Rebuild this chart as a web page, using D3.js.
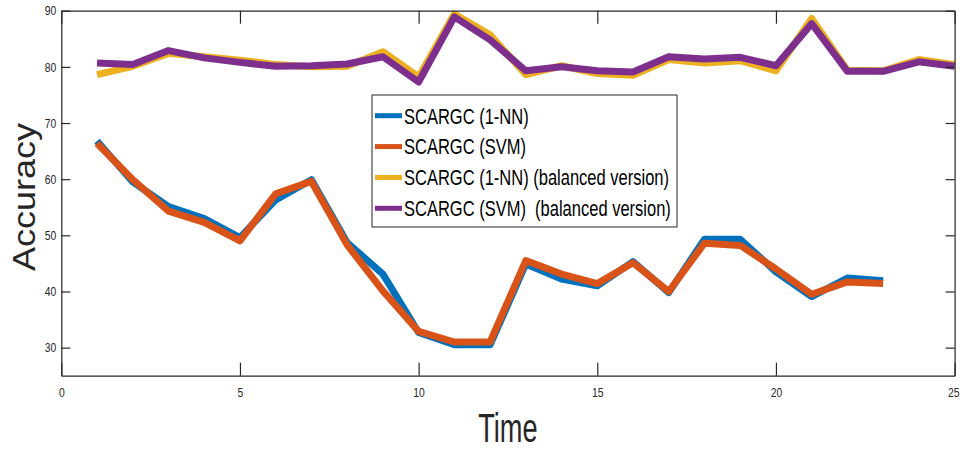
<!DOCTYPE html>
<html>
<head>
<meta charset="utf-8">
<script src="https://cdn.jsdelivr.net/npm/d3@7"></script>
<style>
  html, body { margin: 0; padding: 0; background: #fff; }
  svg { display: block; font-family: "Liberation Sans", Arial, Helvetica, sans-serif; }
</style>
</head>
<body>
<svg id="chart" width="962" height="450"></svg>
<script>
// Accuracy of SCARGC variants over time steps
const timeSteps = d3.range(1, 26);
const seriesNames = [
  "SCARGC (1-NN)",
  "SCARGC (SVM)",
  "SCARGC (1-NN) (balanced version)",
  "SCARGC (SVM)  (balanced version)"
];
const seriesColors = ["#0072BD", "#D95319", "#EDB120", "#7E2F8E"];

const acc1NN = [66.8, 59.5, 55.1, 53.0, 49.6, 56.3, 59.9, 48.7, 43.1, 32.7, 30.5, 30.5,
  44.9, 42.2, 41.0, 45.3, 39.8, 49.3, 49.3, 43.5, 39.1, 42.4, 41.9];
const accSVM = [66.4, 59.9, 54.3, 52.3, 49.0, 57.4, 59.6, 48.3, 40.1, 32.9, 31.0, 31.0,
  45.5, 43.1, 41.4, 45.1, 40.0, 48.6, 48.2, 44.0, 39.5, 41.7, 41.4];
const acc1NNBal = [78.6, 80.1, 82.4, 81.8, 81.2, 80.4, 80.0, 80.1, 82.7, 78.2, 89.4, 85.7,
  78.6, 80.2, 78.8, 78.5, 81.3, 80.7, 81.1, 79.3, 88.6, 79.4, 79.3, 81.3, 80.4];
const accSVMBal = [80.7, 80.4, 82.9, 81.6, 80.8, 80.1, 80.2, 80.5, 81.8, 77.3, 88.9, 84.8,
  79.3, 80.0, 79.3, 79.1, 81.8, 81.4, 81.7, 80.2, 87.7, 79.2, 79.2, 80.9, 80.1];

const xTicks = [0, 5, 10, 15, 20, 25];
const yTicks = [30, 40, 50, 60, 70, 80, 90];
const xDomain = [0, 25];
const yDomain = [25, 90];

const allSeries = [acc1NN, accSVM, acc1NNBal, accSVMBal];

const svg = d3.select("#chart");
const box = { left: 61.3, right: 954.6, top: 10.7, bottom: 375.7 };
const axisColor = "#262626";

const x = d3.scaleLinear().domain(xDomain).range([box.left, box.right]);
const y = d3.scaleLinear().domain(yDomain).range([box.bottom, box.top]);

// narrow the text horizontally by factor k
function condense(sel, k) {
  sel.each(function () {
    const w = this.getComputedTextLength();
    d3.select(this).attr("textLength", w * k).attr("lengthAdjust", "spacingAndGlyphs");
  });
}

// data lines
const line = d3.line()
  .x((d, i) => x(timeSteps[i]))
  .y(d => y(d));

svg.append("g").selectAll("path")
  .data(allSeries)
  .join("path")
  .attr("d", d => line(d))
  .attr("fill", "none")
  .attr("stroke", (d, i) => seriesColors[i])
  .attr("stroke-width", 7)
  .attr("stroke-linejoin", "round")
  .attr("stroke-linecap", "butt");

// axes (box with inward ticks)
function styleAxis(g) {
  g.select(".domain").attr("stroke", axisColor).attr("stroke-width", 1.2);
  g.selectAll(".tick line").attr("stroke", axisColor).attr("stroke-width", 1.2);
  g.selectAll(".tick text").attr("fill", axisColor).attr("font-size", 13);
}

const gx = svg.append("g")
  .attr("transform", `translate(0,${box.bottom})`)
  .call(d3.axisBottom(x).tickValues(xTicks).tickFormat(d3.format("d"))
    .tickSizeInner(-13).tickSizeOuter(0).tickPadding(12));
styleAxis(gx);
// keep the last label inside the figure edge
gx.selectAll(".tick text").filter(d => d === xDomain[1])
  .attr("text-anchor", "end").attr("x", 4.5);

const gxTop = svg.append("g")
  .attr("transform", `translate(0,${box.top})`)
  .call(d3.axisTop(x).tickValues(xTicks).tickFormat("")
    .tickSizeInner(-13).tickSizeOuter(0));
styleAxis(gxTop);

const gy = svg.append("g")
  .attr("transform", `translate(${box.left},0)`)
  .call(d3.axisLeft(y).tickValues(yTicks).tickFormat(d3.format("d"))
    .tickSizeInner(-9).tickSizeOuter(0).tickPadding(5));
styleAxis(gy);

const gyRight = svg.append("g")
  .attr("transform", `translate(${box.right},0)`)
  .call(d3.axisRight(y).tickValues(yTicks).tickFormat("")
    .tickSizeInner(-9).tickSizeOuter(0));
styleAxis(gyRight);

condense(gx.selectAll(".tick text"), 0.8);
condense(gy.selectAll(".tick text"), 0.8);

// axis titles
const xTitle = svg.append("text")
  .attr("x", (box.left + box.right) / 2)
  .attr("y", 442)
  .attr("text-anchor", "middle")
  .attr("font-size", 40)
  .attr("fill", axisColor)
  .text("Time");
condense(xTitle, 0.68);

svg.append("text")
  .attr("transform", `translate(35,197) rotate(-90)`)
  .attr("text-anchor", "middle")
  .attr("font-size", 31)
  .attr("fill", axisColor)
  .attr("textLength", 148)
  .attr("lengthAdjust", "spacingAndGlyphs")
  .text("Accuracy");

// legend
const legend = svg.append("g");
legend.append("rect")
  .attr("x", 372).attr("y", 95)
  .attr("width", 305).attr("height", 132)
  .attr("fill", "#fff")
  .attr("stroke", axisColor)
  .attr("stroke-width", 1);

const rowY = d3.scalePoint().domain(seriesNames).range([115.7, 208.3]);
const rows = legend.selectAll("g.row")
  .data(seriesNames)
  .join("g")
  .attr("class", "row")
  .attr("transform", d => `translate(0,${rowY(d)})`);

rows.append("line")
  .attr("x1", 375).attr("x2", 402)
  .attr("y1", 0).attr("y2", 0)
  .attr("stroke", (d, i) => seriesColors[i])
  .attr("stroke-width", 5);

const labels = rows.append("text")
  .attr("x", 404)
  .attr("y", 0)
  .attr("dy", "0.36em")
  .attr("font-size", 22)
  .attr("fill", "#000")
  .attr("xml:space", "preserve")
  .style("white-space", "pre")
  .text(d => d);
condense(labels, 0.75);
</script>
</body>
</html>
